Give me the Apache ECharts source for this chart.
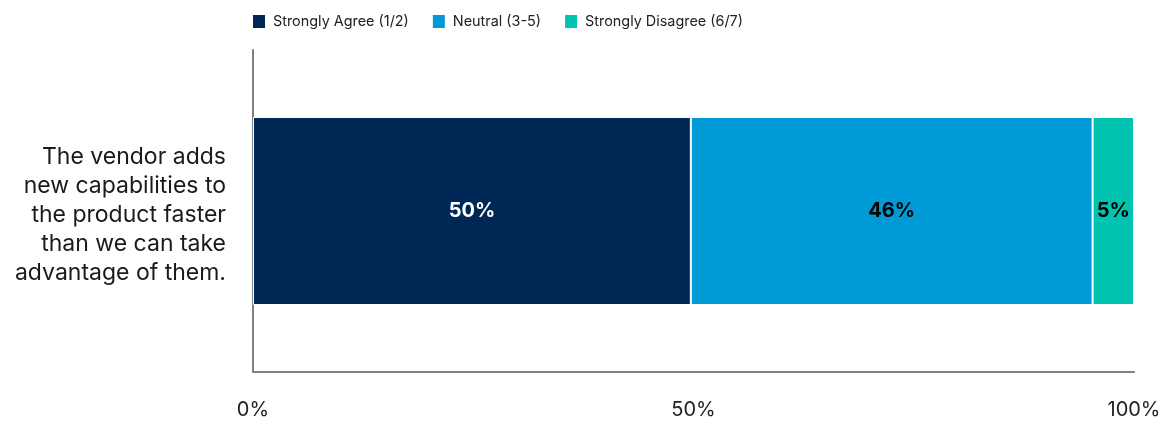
<!DOCTYPE html>
<html>
<head>
<meta charset="utf-8">
<script src="https://cdn.jsdelivr.net/npm/echarts@6/dist/echarts.min.js"></script>
<style>html,body{margin:0;padding:0;background:#fff}#c{width:1173px;height:424px}</style>
</head>
<body>
<div id="c"></div>
<script>
const categories = ['The vendor adds\nnew capabilities to\nthe product faster\nthan we can take\nadvantage of them.'];
const seriesNames = ['Strongly Agree (1/2)', 'Neutral (3-5)', 'Strongly Disagree (6/7)'];
const agreeValues = [49.7];
const neutralValues = [45.6];
const disagreeValues = [4.7];
const displayLabels = [['50%'], ['46%'], ['5%']];
const xTicks = [0, 50, 100];
const colors = ['#002856', '#009ad7', '#00c4b0'];
const labelColors = ['#ffffff', '#000000', '#000000'];

const dataSets = [agreeValues, neutralValues, disagreeValues];
const chart = echarts.init(document.getElementById('c'));
chart.setOption({
  animation: false,
  textStyle: { fontFamily: 'Inter, sans-serif' },
  legend: {
    top: 8, left: 246,
    itemWidth: 14, itemHeight: 15, itemGap: 22,
    icon: 'rect',
    textStyle: { fontSize: 14.4, color: '#222', fontFamily: 'Inter, sans-serif', padding: [0, 0, 0, 2] },
    data: seriesNames
  },
  grid: { left: 253, right: 39, top: 50, bottom: 52, containLabel: false },
  xAxis: {
    type: 'value', min: 0, max: 100, interval: 50,
    axisLine: { show: true, lineStyle: { color: '#7a8582', width: 2 } },
    axisTick: { show: false },
    splitLine: { show: false },
    axisLabel: { formatter: v => xTicks.includes(v) ? v + '%' : '', fontSize: 20, color: '#222', margin: 28 }
  },
  yAxis: {
    type: 'category', data: categories,
    axisLine: { show: true, lineStyle: { color: '#7a8582', width: 2 } },
    axisTick: { show: false },
    axisLabel: {
      align: 'right', margin: 27,
      formatter: v => '{s| }\n' + v.split('\n').map(l => '{a|' + l + '}').join('\n'),
      rich: {
        s: { fontSize: 4, lineHeight: 8 },
        a: { fontSize: 23, lineHeight: 29, color: '#1a1a1a', fontFamily: 'Inter, sans-serif' }
      }
    }
  },
  series: seriesNames.map((n, i) => ({
    name: n, type: 'bar', stack: 'total', barWidth: 188,
    itemStyle: { color: colors[i], borderColor: '#ffffff', borderWidth: 1 },
    label: {
      show: true, position: 'inside', fontSize: 20, fontWeight: 'bold', color: labelColors[i],
      formatter: p => displayLabels[i][p.dataIndex]
    },
    data: dataSets[i]
  }))
});
</script>
</body>
</html>
